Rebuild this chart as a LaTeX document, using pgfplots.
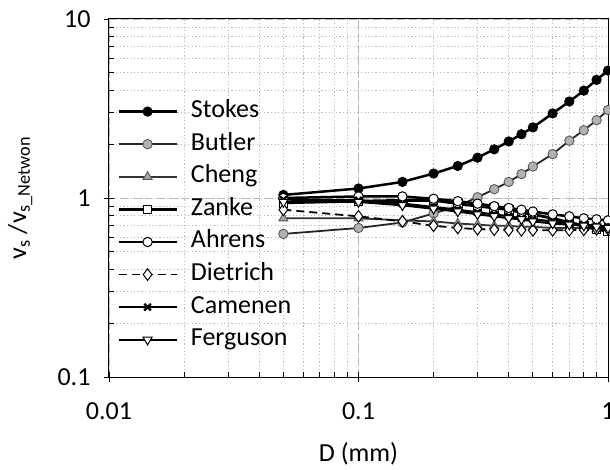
\documentclass[border=0pt]{standalone}
\usepackage{pgfplots}
\pgfplotsset{compat=1.18}
\usepackage{fontspec}
\setmainfont{Carlito}
\pgfplotstableread{
x Stokes Butler Cheng Zanke Ahrens Dietrich Camenen Ferguson
0.05 1.04 0.63 0.77 0.94 1.00 0.86 0.98 0.95
0.10 1.13 0.68 0.77 0.96 1.02 0.79 0.97 0.95
0.15 1.23 0.73 0.75 0.97 1.02 0.74 0.93 0.91
0.20 1.37 0.82 0.74 0.97 0.99 0.70 0.89 0.87
0.25 1.51 0.90 0.72 0.93 0.96 0.68 0.86 0.84
0.30 1.68 1.01 0.71 0.90 0.93 0.67 0.83 0.81
0.35 1.87 1.12 0.70 0.88 0.90 0.665 0.81 0.79
0.40 2.07 1.23 0.70 0.86 0.88 0.66 0.79 0.77
0.45 2.27 1.36 0.69 0.83 0.86 0.66 0.77 0.76
0.50 2.48 1.50 0.69 0.81 0.84 0.66 0.76 0.74
0.60 2.97 1.76 0.68 0.77 0.81 0.66 0.74 0.72
0.70 3.46 2.09 0.68 0.73 0.79 0.66 0.72 0.71
0.80 3.98 2.39 0.68 0.70 0.77 0.665 0.71 0.70
0.90 4.57 2.72 0.67 0.67 0.76 0.67 0.70 0.69
1.00 5.15 3.10 0.67 0.65 0.75 0.67 0.69 0.68
}\datatable
\begin{document}
\begin{tikzpicture}
\begin{axis}[
 at={(0,0)}, anchor=south west,
 scale only axis, width=499pt, height=358pt,
 xmode=log, ymode=log, xmin=0.01, xmax=1, ymin=0.1, ymax=10,
 xtick={0.01,0.1,1}, xticklabels={0.01,0.1,1},
 ytick={0.1,1,10}, yticklabels={0.1,1,10},
 xtick pos=bottom, ytick pos=left,
 tick align=inside, major tick length=0pt, minor tick length=5pt,
 extra x ticks={0.01,0.1,1}, extra x tick labels={},
 extra y ticks={0.1,1,10}, extra y tick labels={},
 extra tick style={tick align=outside, major tick length=5pt, grid=none},
 grid=both,
 major grid style={black!28, line width=0.8pt, dash pattern=on 8pt off 4pt},
 minor grid style={black!28, line width=0.8pt, dash pattern=on 1.2pt off 2.4pt},
 axis line style={black, line width=1pt},
 tick style={black, line width=0.9pt},
 ticklabel style={font=\fontsize{26}{30}\selectfont},
 xticklabel style={yshift=-22pt},
 yticklabel style={xshift=-15pt},
 /pgf/number format/assume math mode=true,
 xlabel={D (mm)},
 ylabel={v\textsubscript{s} /v\textsubscript{s\_Netwon}},
 label style={font=\fontsize{26}{30}\selectfont},
 xlabel style={at={(axis description cs:0.5,-0.215)}, anchor=center},
 ylabel style={at={(axis description cs:-0.178,0.5)}, anchor=center},
 legend style={at={(0.016,0.781)}, anchor=north west, draw=none, fill=none,
   inner sep=0pt, row sep=4.6pt, column sep=11pt,
   font=\fontsize{26}{30}\selectfont,
   nodes={text height=18pt, text depth=6pt, inner sep=2pt}},
 legend cell align=left,
 legend image code/.code={\draw[mark repeat=2,mark phase=2,#1] plot coordinates {(0pt,0pt) (29pt,0pt) (58pt,0pt)};},
]
\addplot[black, line width=2.5pt, mark=*, mark size=4.7pt, mark options={fill=black, line width=0.8pt}] table[x=x,y=Stokes] {\datatable};
\addlegendentry{Stokes}
\addplot[black!85, line width=1.8pt, mark=*, mark size=4.7pt, mark options={fill=black!30, draw=black!65, line width=0.9pt}] table[x=x,y=Butler] {\datatable};
\addlegendentry{Butler}
\addplot[black!80, line width=1.8pt, mark=triangle*, mark size=5.2pt, mark options={fill=black!35, draw=black!65, line width=0.9pt}] table[x=x,y=Cheng] {\datatable};
\addlegendentry{Cheng}
\addplot[black, line width=2.8pt, mark=square*, mark size=4.3pt, mark options={fill=white, draw=black, line width=1pt}] table[x=x,y=Zanke] {\datatable};
\addlegendentry{Zanke}
\addplot[black, line width=2.5pt, mark=*, mark size=4.7pt, mark options={fill=white, draw=black, line width=1pt}] table[x=x,y=Ahrens] {\datatable};
\addlegendentry{Ahrens}
\addplot[black, line width=1.8pt, dash pattern=on 8pt off 5pt, mark=diamond*, mark size=5.8pt, mark options={fill=white, draw=black, solid, line width=1pt}] table[x=x,y=Dietrich] {\datatable};
\addlegendentry{Dietrich}
\addplot[black, line width=2.2pt, mark=x, mark size=4.7pt, mark options={line width=2.3pt}] table[x=x,y=Camenen] {\datatable};
\addlegendentry{Camenen}
\addplot[black, line width=2pt, mark=triangle*, mark size=5.2pt, mark options={rotate=180, fill=white, draw=black, line width=1pt}] table[x=x,y=Ferguson] {\datatable};
\addlegendentry{Ferguson}
\end{axis}
\pgfresetboundingbox
\path[use as bounding box] (-109pt,-93pt) rectangle (501pt,377pt);
\end{tikzpicture}
\end{document}
